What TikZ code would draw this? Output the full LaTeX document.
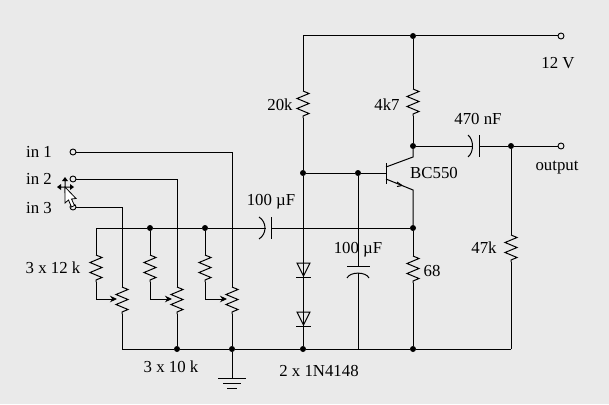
\documentclass[tikz,border=0pt]{standalone}
\usepackage{fontspec}
\setmainfont{Liberation Serif}
\usetikzlibrary{arrows.meta,decorations.pathmorphing}
\definecolor{panelgrey}{RGB}{234,234,234}
\tikzset{
  wire/.style={line width=1pt,black},
  zig/.style={wire,decorate,decoration={zigzag,segment length=10pt,amplitude=6pt}},
  dot/.style={circle,fill=black,inner sep=0pt,minimum size=6pt},
  term/.style={circle,draw=black,line width=0.9pt,fill=panelgrey,inner sep=0pt,minimum size=6pt},
  lab/.style={inner sep=0pt,font=\fontsize{16.8}{17}\selectfont},
  wiper/.style={wire,-{Stealth[length=7pt,width=6.5pt]}}
}

\begin{document}
\begin{tikzpicture}[x=1pt,y=-1pt]
\useasboundingbox (0,0) rectangle (609,404);
\fill[panelgrey] (0,0) rectangle (609,404);

% Terminals
\node[term] (in1) at (73,152) {};
\node[term] (in2) at (73,179) {};
\node[term] (in3) at (73,207) {};
\node[term] (vcc) at (561,36) {};
\node[term] (out) at (561,146) {};

% Junctions
\node[dot] (jtop) at (413,36) {};
\node[dot] (jcoll) at (413,146) {};
\node[dot] (jout) at (511,146) {};
\node[dot] (jbase) at (303,173) {};
\node[dot] (jbias) at (358,173) {};
\node[dot] (jmix2) at (150,228) {};
\node[dot] (jmix3) at (205,228) {};
\node[dot] (jemit) at (413,228) {};
\node[dot] (jgnd2) at (177,349) {};
\node[dot] (jgnd3) at (232,349) {};
\node[dot] (jdiode) at (303,349) {};
\node[dot] (jfeet) at (413,349) {};

% Corners
\coordinate (ctop) at (303,36);
\coordinate (cmix) at (96,228);
\coordinate (cgnd1) at (122,349);
\coordinate (cgnd4) at (511,349);
\coordinate (cin1) at (232,152);
\coordinate (cin2) at (177,179);
\coordinate (cin3) at (122,207);

% Supply side
\coordinate (r20a) at (303,91);
\coordinate (r20b) at (303,118);
\coordinate (r4a) at (413,89);
\coordinate (r4b) at (413,116);
\draw[wire] (ctop) -- (jtop) -- (vcc);
\draw[wire] (ctop) -- (r20a);
\draw[zig] (r20a) -- (r20b);
\draw[wire] (r20b) -- (jbase);
\draw[wire] (jtop) -- (r4a);
\draw[zig] (r4a) -- (r4b);
\draw[wire] (r4b) -- (jcoll);

% Transistor
\coordinate (bbara) at (386,163);
\coordinate (bbarb) at (386,184);
\coordinate (coll) at (413,157);
\coordinate (collb) at (386,167);
\coordinate (emit) at (413,190);
\coordinate (emitb) at (386,179);
\coordinate (emittip) at (402,185.5);
\draw[wire] (jbase) -- (jbias) -- (386,173);
\draw[wire] (bbara) -- (bbarb);
\draw[wire] (jcoll) -- (coll) -- (collb);
\draw[wire] (emitb) -- (emit) -- (jemit);
\draw[wire] (emittip) -- +(-5,-3.5);
\draw[wire] (emittip) -- +(-5,1);

% Emitter resistor
\coordinate (r68a) at (413,256);
\coordinate (r68b) at (413,283);
\draw[wire] (jemit) -- (r68a);
\draw[zig] (r68a) -- (r68b);
\draw[wire] (r68b) -- (jfeet);

% Output
\coordinate (c2arc) at (473,146);
\coordinate (c2plate) at (479,146);
\draw[wire] (jcoll) -- (c2arc);
\draw[wire] (468,135) .. controls (474,140) and (474,152) .. (468,157);
\draw[wire] (479,135) -- (479,157);
\draw[wire] (c2plate) -- (jout) -- (out);
\coordinate (r47a) at (511,235);
\coordinate (r47b) at (511,262);
\draw[wire] (jout) -- (r47a);
\draw[zig] (r47a) -- (r47b);
\draw[wire] (r47b) -- (cgnd4);

% Mixing line and input capacitor
\coordinate (c1arc) at (266,228);
\coordinate (c1plate) at (271,228);
\draw[wire] (cmix) -- (jmix2) -- (jmix3) -- (c1arc);
\draw[wire] (259,217) .. controls (267,222) and (267,234) .. (259,239);
\draw[wire] (271,217) -- (271,239);
\draw[wire] (c1plate) -- (jemit);

% Bias capacitor
\coordinate (c3plate) at (358,266);
\coordinate (c3arc) at (358,273);
\draw[wire] (jbias) -- (c3plate);
\draw[wire] (347,266) -- (370,266);
\draw[wire] (347,278) .. controls (350,271.5) and (366,271.5) .. (369,278);
\draw[wire] (c3arc) -- (358,349);

% Diodes
\draw[wire] (jbase) -- (jdiode);
\draw[wire] (297,263) -- (310,263) -- (303.5,276) -- cycle;
\draw[wire] (296,277) -- (311,277);
\draw[wire] (297,312) -- (310,312) -- (303.5,325) -- cycle;
\draw[wire] (296,326) -- (311,326);

% Level controls, channel 3
\coordinate (s3a) at (96,255);
\coordinate (s3b) at (96,282);
\coordinate (s3c) at (96,299);
\coordinate (p3a) at (122,287);
\coordinate (p3b) at (122,314);
\coordinate (p3w) at (117,299);
\draw[wire] (cmix) -- (s3a);
\draw[zig] (s3a) -- (s3b);
\draw[wire] (s3b) -- (s3c);
\draw[wiper] (s3c) -- (p3w);
\draw[wire] (in3) -- (cin3) -- (p3a);
\draw[zig] (p3a) -- (p3b);
\draw[wire] (p3b) -- (cgnd1);

% Level controls, channel 2
\coordinate (s2a) at (150,255);
\coordinate (s2b) at (150,282);
\coordinate (s2c) at (150,299);
\coordinate (p2a) at (177,287);
\coordinate (p2b) at (177,314);
\coordinate (p2w) at (172,299);
\draw[wire] (jmix2) -- (s2a);
\draw[zig] (s2a) -- (s2b);
\draw[wire] (s2b) -- (s2c);
\draw[wiper] (s2c) -- (p2w);
\draw[wire] (in2) -- (cin2) -- (p2a);
\draw[zig] (p2a) -- (p2b);
\draw[wire] (p2b) -- (jgnd2);

% Level controls, channel 1
\coordinate (s1a) at (205,255);
\coordinate (s1b) at (205,282);
\coordinate (s1c) at (205,299);
\coordinate (p1a) at (232,287);
\coordinate (p1b) at (232,314);
\coordinate (p1w) at (227,299);
\draw[wire] (jmix3) -- (s1a);
\draw[zig] (s1a) -- (s1b);
\draw[wire] (s1b) -- (s1c);
\draw[wiper] (s1c) -- (p1w);
\draw[wire] (in1) -- (cin1) -- (p1a);
\draw[zig] (p1a) -- (p1b);
\draw[wire] (p1b) -- (jgnd3);

% Ground rail
\coordinate (gnd) at (232,378);
\draw[wire] (cgnd1) -- (jgnd2) -- (jgnd3) -- (jdiode) -- (jfeet) -- (cgnd4);
\draw[wire] (jgnd3) -- (gnd);
\draw[wire] (218,378) -- (246,378);
\draw[wire] (223,383) -- (241,383);
\draw[wire] (227,388) -- (237,388);

% Mouse pointer
\fill[black] (65,177) -- (68,181) -- (65.5,181) -- (65.5,193) -- (64.5,193) -- (64.5,181) -- (62,181) -- cycle;
\fill[black] (57,187) -- (61,184) -- (61,186.5) -- (70,186.5) -- (70,184) -- (74,187) -- (70,190) -- (70,187.5) -- (61,187.5) -- (61,190) -- cycle;
\draw[line width=0.8pt,fill=white] (65,187) -- (65,203) -- (68.5,200) -- (71.5,207) -- (74.5,205.5) -- (71.5,199) -- (76,198.5) -- cycle;

% Labels
\node[lab] (lin1) at (39,152) {in 1};
\node[lab] (lin2) at (39,179) {in 2};
\node[lab] (lin3) at (39,208) {in 3};
\node[lab] (l12v) at (558,63) {12 V};
\node[lab] (l20k) at (280,105) {20k};
\node[lab] (l4k7) at (387,105) {4k7};
\node[lab] (lbc) at (434,173) {BC550};
\node[lab] (l470) at (478,119) {470 nF};
\node[lab] (lout) at (557,168) {output};
\node[lab] (lc1) at (271,202) {100 µF};
\node[lab] (lc3) at (358,250) {100 µF};
\node[lab] (l47k) at (484,248) {47k};
\node[lab] (l68) at (432,271) {68};
\node[lab] (l12k) at (53,268) {3 x 12 k};
\node[lab] (l10k) at (171,367) {3 x 10 k};
\node[lab] (ldi) at (319,371) {2 x 1N4148};
\end{tikzpicture}
\end{document}
